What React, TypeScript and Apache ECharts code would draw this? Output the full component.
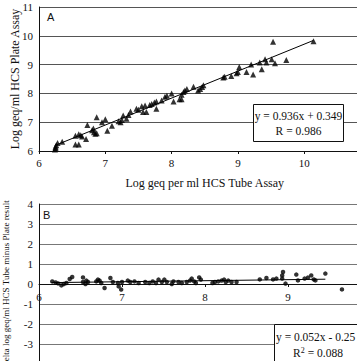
import React, { useEffect, useRef } from "react";
import * as echarts from "echarts";

// Panel A: tube assay (x) vs plate assay (y), log geq/ml
const aTube = [
  6.24, 6.25, 6.25, 6.26, 6.28, 6.35, 6.55, 6.6, 6.55, 6.6, 6.63, 6.65,
  6.71, 6.73, 6.8, 6.83, 6.85, 6.87, 6.82, 6.87, 6.95, 7.0, 7.03, 7.1,
  7.2, 7.23, 7.25, 7.27, 7.32, 7.35, 7.38, 7.47, 7.5, 7.57, 7.62, 7.55,
  7.6, 7.67, 7.7, 7.74, 7.77, 7.77, 7.85, 7.9, 7.93, 8.0, 8.03, 8.12,
  8.15, 8.15, 8.18, 8.2, 8.23, 8.33, 8.4, 8.43, 8.46, 8.48, 8.78, 8.8,
  8.9, 8.98, 9.0, 9.02, 9.13, 9.2, 9.23, 9.33, 9.36, 9.41, 9.43, 9.51,
  9.53, 9.56, 9.73, 10.14,
];
const aPlate = [
  6.05, 6.1, 6.15, 6.2, 6.28, 6.32, 6.23, 6.23, 6.53, 6.58, 6.55, 6.5,
  6.42, 6.9, 6.72, 6.65, 6.6, 6.62, 6.78, 7.17, 7.0, 7.1, 6.7, 6.88,
  7.03, 7.0, 7.08, 7.23, 7.12, 7.25, 7.37, 7.47, 7.43, 7.35, 7.35, 7.55,
  7.58, 7.6, 7.63, 7.68, 7.47, 7.72, 7.75, 7.88, 7.92, 8.0, 7.72, 7.8,
  7.8, 7.95, 8.05, 8.1, 8.15, 8.23, 8.1, 8.15, 8.22, 8.28, 8.55, 8.58,
  8.6, 8.7, 8.74, 8.92, 8.74, 9.0, 8.66, 9.07, 8.84, 9.19, 9.07, 9.19,
  9.79, 9.05, 9.16, 9.81,
];
const aFitX = [6.24, 10.14];
const aFitY = [6.19, 9.84];

// Panel B: difference tube minus plate
const bX = [
  6.16, 6.2, 6.23, 6.27, 6.3, 6.33, 6.37, 6.4, 6.53, 6.53, 6.56, 6.59,
  6.57, 6.69, 6.71, 6.73, 6.75, 6.79, 6.86, 6.89, 6.95, 6.96, 7.0, 6.99,
  7.07, 7.1, 7.15, 7.2, 7.28, 7.33, 7.37, 7.41, 7.44, 7.48, 7.51, 7.54,
  7.6, 7.62, 7.68, 7.72, 7.78, 7.82, 7.84, 7.87, 7.89, 7.93, 7.95, 8.09,
  8.12, 8.16, 8.2, 8.23, 8.25, 8.28, 8.32, 8.38, 8.66, 8.74, 8.82, 8.86,
  8.93, 8.94, 8.93, 8.97, 9.1, 9.12, 9.2, 9.24, 9.28, 9.31, 9.33, 9.45,
  9.65,
];
const bDelta = [
  0.13, 0.08, 0.03, -0.07, 0.0, 0.05, 0.25, 0.35, 0.33, 0.1, 0.0, 0.1,
  0.17, 0.13, 0.22, 0.17, 0.05, -0.2, 0.3, 0.1, 0.05, -0.12, 0.1, -0.28,
  0.17, 0.1, 0.13, 0.05, 0.1, 0.05, 0.13, 0.05, 0.22, 0.1, 0.22, 0.1,
  0.0, 0.13, 0.1, 0.05, 0.1, 0.17, 0.27, 0.13, 0.05, 0.33, 0.22, 0.05,
  0.1, 0.13, 0.17, 0.22, 0.1, 0.17, 0.1, 0.1, 0.23, 0.3, 0.23, 0.27,
  0.43, 0.6, 0.27, 0.02, 0.47, 0.18, 0.27, 0.32, 0.43, 0.23, 0.18, 0.52,
  -0.27,
];
const bFitX = [6.15, 9.45];
const bFitY = [0.07, 0.24];

const aTicks = [6, 11];
const bXTicks = [6, 10];
const bYTicks = [-4, 4];

const SERIF = "'Liberation Serif', 'Times New Roman', serif";
const SANS = "'Liberation Sans', Arial, sans-serif";

export default function App() {
  const ref = useRef<HTMLDivElement>(null);
  useEffect(() => {
    if (!ref.current) return;
    const chart = echarts.init(ref.current, null, { renderer: "svg" });
    const label = { fontFamily: SERIF, fontSize: 11, color: "#111" };
    chart.setOption({
      animation: false,
      grid: [
        { left: 39, top: 7, width: 331.5, height: 144, containLabel: false, outerBoundsMode: "none" },
        { left: 39, top: 204, width: 332, height: 160, containLabel: false, outerBoundsMode: "none" },
      ],
      xAxis: [
        {
          gridIndex: 0,
          type: "value",
          min: aTicks[0],
          max: aTicks[1],
          interval: 1,
          axisLine: { lineStyle: { color: "#111", width: 1 } },
          axisTick: { show: true, length: 3, lineStyle: { color: "#111" } },
          splitLine: { show: false },
          axisLabel: { ...label, margin: 6, showMaxLabel: false },
          name: "Log geq per ml HCS Tube Assay",
          nameLocation: "middle",
          nameGap: 26,
          nameMoveOverlap: false,
          nameTextStyle: { fontFamily: SERIF, fontSize: 12, color: "#111" },
        },
        {
          gridIndex: 1,
          type: "value",
          min: bXTicks[0],
          max: bXTicks[1],
          interval: 1,
          offset: -80,
          axisLine: { onZero: false, lineStyle: { color: "#111", width: 1 } },
          axisTick: { show: true, length: 3, lineStyle: { color: "#111" } },
          splitLine: { show: false },
          axisLabel: { ...label, margin: 7, showMaxLabel: false },
        },
      ],
      yAxis: [
        {
          gridIndex: 0,
          type: "value",
          min: aTicks[0],
          max: aTicks[1],
          interval: 1,
          axisLine: { show: true, lineStyle: { color: "#111", width: 1 } },
          axisTick: { show: false },
          splitLine: { show: true, lineStyle: { color: "#555", width: 1 } },
          axisLabel: { ...label, margin: 6 },
          name: "Log geq/ml HCS Plate Assay",
          nameLocation: "middle",
          nameGap: 18,
          nameMoveOverlap: false,
          nameTextStyle: { fontFamily: SERIF, fontSize: 12, color: "#111" },
        },
        {
          gridIndex: 1,
          type: "value",
          min: bYTicks[0],
          max: bYTicks[1],
          interval: 1,
          axisLine: { show: true, onZero: false, lineStyle: { color: "#111", width: 1 } },
          axisTick: { show: false },
          splitLine: { show: true, lineStyle: { color: "#777", width: 1 } },
          axisLabel: { ...label, margin: 6, showMinLabel: false },
          name: "Delta log geq/ml HCS Tube minus Plate result",
          nameLocation: "middle",
          nameGap: 29,
          nameMoveOverlap: false,
          nameTextStyle: { fontFamily: SERIF, fontSize: 9, color: "#111" },
        },
      ],
      series: [
        {
          type: "scatter",
          xAxisIndex: 0,
          yAxisIndex: 0,
          symbol: "triangle",
          symbolSize: 6,
          itemStyle: { color: "#000" },
          data: aTube.map((x, i) => [x, aPlate[i]]),
          z: 3,
        },
        {
          type: "line",
          xAxisIndex: 0,
          yAxisIndex: 0,
          symbol: "none",
          lineStyle: { color: "#000", width: 1 },
          data: aFitX.map((x, i) => [x, aFitY[i]]),
          z: 4,
        },
        {
          type: "scatter",
          xAxisIndex: 1,
          yAxisIndex: 1,
          symbol: "circle",
          symbolSize: 4.5,
          itemStyle: { color: "#000" },
          data: bX.map((x, i) => [x, bDelta[i]]),
          z: 3,
        },
        {
          type: "line",
          xAxisIndex: 1,
          yAxisIndex: 1,
          symbol: "none",
          lineStyle: { color: "#000", width: 1 },
          data: bFitX.map((x, i) => [x, bFitY[i]]),
          z: 4,
        },
      ],
      graphic: [
        {
          type: "text",
          left: 47,
          top: 11,
          style: { text: "A", font: `11px ${SANS}`, fill: "#111" },
        },
        {
          type: "text",
          left: 43,
          top: 209,
          style: { text: "B", font: `11px ${SANS}`, fill: "#111" },
        },
        {
          type: "rect",
          shape: { x: 253.5, y: 104.5, width: 90, height: 37 },
          style: { fill: "#fff", stroke: "#111", lineWidth: 1 },
          z: 10,
        },
        {
          type: "text",
          x: 298.5,
          y: 116,
          style: {
            text: "y = 0.936x + 0.349",
            font: `11.5px ${SERIF}`,
            fill: "#111",
            align: "center",
            verticalAlign: "middle",
          },
          z: 11,
        },
        {
          type: "text",
          x: 298.5,
          y: 131,
          style: {
            text: "R = 0.986",
            font: `11.5px ${SERIF}`,
            fill: "#111",
            align: "center",
            verticalAlign: "middle",
          },
          z: 11,
        },
        {
          type: "rect",
          shape: { x: 274.5, y: 324.5, width: 100, height: 50 },
          style: { fill: "#fff", stroke: "#111", lineWidth: 1 },
          z: 10,
        },
        {
          type: "text",
          x: 276,
          y: 337,
          style: {
            text: "y = 0.052x - 0.25",
            font: `11.5px ${SERIF}`,
            fill: "#111",
            align: "left",
            verticalAlign: "middle",
          },
          z: 11,
        },
        {
          type: "text",
          x: 318,
          y: 353,
          style: {
            text: "R{s|2} = 0.088",
            font: `11.5px ${SERIF}`,
            fill: "#111",
            align: "center",
            verticalAlign: "middle",
            rich: {
              s: { fontSize: 8, fontFamily: SERIF, verticalAlign: "top", padding: [0, 0, 6, 0] },
            },
          },
          z: 11,
        },
      ],
    });
    return () => chart.dispose();
  }, []);
  return (
    <div
      ref={ref}
      style={{ position: "absolute", left: 0, top: 0, width: 357, height: 361, background: "#fff" }}
    />
  );
}
